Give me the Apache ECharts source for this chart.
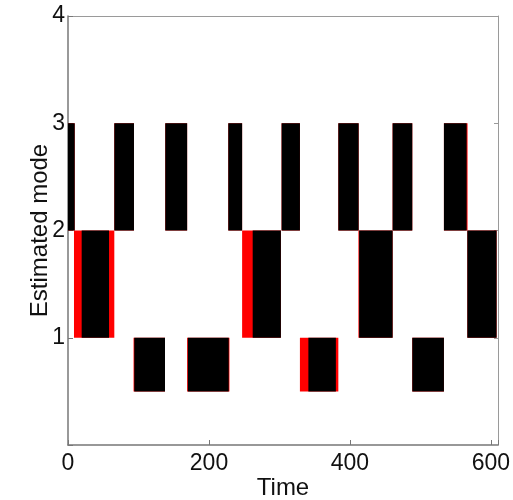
<!DOCTYPE html>
<html>
<head>
<meta charset="utf-8">
<script src="https://cdn.jsdelivr.net/npm/echarts@6/dist/echarts.min.js"></script>
<style>
  html, body { margin: 0; padding: 0; background: #fff; }
  #chart { width: 513px; height: 500px; }
</style>
</head>
<body>
<div id="chart"></div>
<script>
// Time intervals [start, end] spent in each mode.
// Estimated mode (black)
const estMode1 = [[94, 137.6], [170, 228], [341, 380], [488.4, 533.3]];
const estMode2 = [[19.4, 58.2], [262, 302], [413, 460.5], [566.5, 608]];
const estMode3 = [[0, 9.5], [65.7, 93.6], [138, 169], [227.4, 247], [303, 329], [383.5, 412.3], [460.5, 488.4], [533.3, 565.5]];
// True mode (red), drawn underneath the estimate
const trueMode1 = [[93, 137.6], [169, 229], [329, 383.5], [488.4, 533.3]];
const trueMode2 = [[8.5, 65.7], [247, 302], [412, 460.5], [566.5, 608]];
const trueMode3 = [[0, 9.5], [65.7, 93.6], [138, 169], [227.4, 247], [303, 329], [383.5, 412.3], [460.5, 488.4], [533.3, 566.8]];

// Axis ticks
const xTicks = [0, 200, 400, 600];
const yTicks = [1, 2, 3, 4];

// Each mode is drawn as a band whose top sits at the mode value.
const MODE_FLOOR = { 1: 0.5, 2: 1, 3: 2 };

function toRects(segments, mode) {
  return segments.map(s => [s[0], s[1], MODE_FLOOR[mode], mode]);
}

const trueRects = [].concat(toRects(trueMode1, 1), toRects(trueMode2, 2), toRects(trueMode3, 3));
const estRects = [].concat(toRects(estMode1, 1), toRects(estMode2, 2), toRects(estMode3, 3));

function rectRenderer(color) {
  return function (params, api) {
    const p0 = api.coord([api.value(0), api.value(3)]);
    const p1 = api.coord([api.value(1), api.value(2)]);
    return {
      type: 'rect',
      shape: { x: p0[0], y: p0[1], width: p1[0] - p0[0], height: p1[1] - p0[1] },
      style: { fill: color }
    };
  };
}

const font = 'Liberation Sans, Arial, Helvetica, sans-serif';
const axisColor = '#777';
const frameColor = '#9a9a9a';

const chart = echarts.init(document.getElementById('chart'), null, { renderer: 'canvas' });
chart.setOption({
  animation: false,
  backgroundColor: '#fff',
  grid: { left: 68, right: 15, top: 16, bottom: 55, containLabel: false, outerBoundsMode: 'none' },
  xAxis: [{
    type: 'value', min: 0, max: 610, interval: 200,
    name: 'Time', nameLocation: 'middle', nameGap: 31, nameMoveOverlap: false,
    nameTextStyle: { fontFamily: font, fontSize: 24, color: '#111' },
    axisLine: { show: true, onZero: false, lineStyle: { color: axisColor, width: 1.5 } },
    axisTick: { show: true, inside: true, length: 5, lineStyle: { color: axisColor } },
    axisLabel: {
      fontFamily: font, fontSize: 23, color: '#111', margin: 7,
      formatter: v => (xTicks.indexOf(v) >= 0 ? String(v) : '')
    },
    splitLine: { show: false }
  }, {
    type: 'value', position: 'top', min: 0, max: 610, interval: 200,
    axisLine: { show: true, onZero: false, lineStyle: { color: frameColor, width: 1 } },
    axisTick: { show: false },
    axisLabel: { show: false },
    splitLine: { show: false }
  }],
  yAxis: [{
    type: 'value', min: 0, max: 4, interval: 1,
    name: 'Estimated mode', nameLocation: 'middle', nameGap: 16, nameRotate: 90, nameMoveOverlap: false,
    nameTextStyle: { fontFamily: font, fontSize: 24, color: '#111' },
    axisLine: { show: true, onZero: false, lineStyle: { color: axisColor, width: 1.5 } },
    axisTick: { show: true, inside: true, length: 5, lineStyle: { color: axisColor } },
    axisLabel: {
      fontFamily: font, fontSize: 23, color: '#111', margin: 3,
      formatter: v => (yTicks.indexOf(v) >= 0 ? String(v) : '')
    },
    splitLine: { show: false }
  }, {
    type: 'value', position: 'right', min: 0, max: 4, interval: 1,
    axisLine: { show: true, onZero: false, lineStyle: { color: frameColor, width: 1 } },
    axisTick: { show: true, inside: true, length: 4, lineStyle: { color: frameColor } },
    axisLabel: { show: false },
    splitLine: { show: false }
  }],
  series: [{
    name: 'True mode',
    type: 'custom',
    renderItem: rectRenderer('#ff0000'),
    encode: { x: [0, 1], y: [2, 3] },
    data: trueRects,
    z: 1
  }, {
    name: 'Estimated mode',
    type: 'custom',
    renderItem: rectRenderer('#000000'),
    encode: { x: [0, 1], y: [2, 3] },
    data: estRects,
    z: 2
  }]
});
</script>
</body>
</html>
